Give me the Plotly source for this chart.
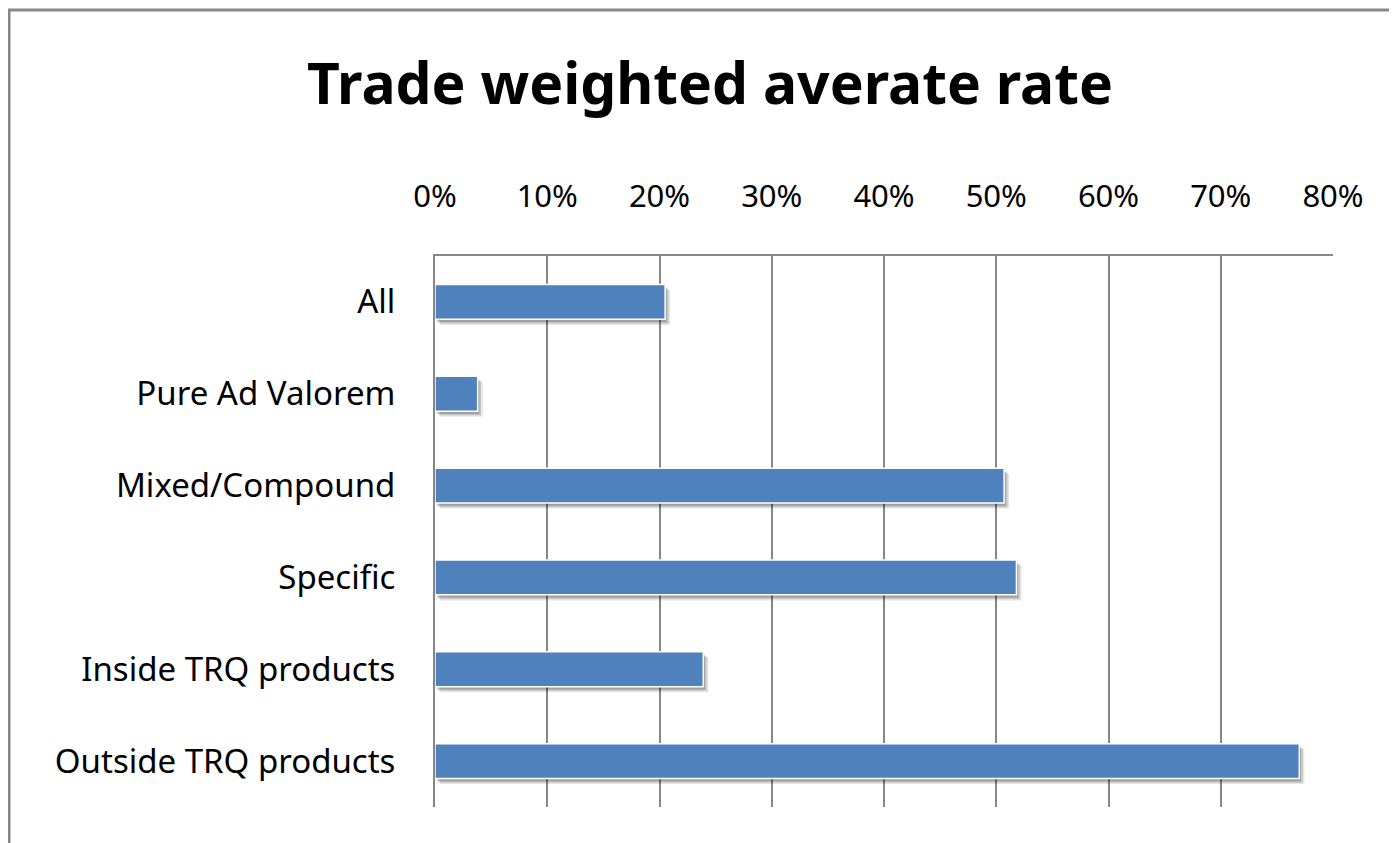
import plotly.graph_objects as go

categories = ["All", "Pure Ad Valorem", "Mixed/Compound", "Specific",
              "Inside TRQ products", "Outside TRQ products"]
values = [20.5, 3.8, 50.7, 51.8, 23.9, 77.0]
tick_vals = [0, 10, 20, 30, 40, 50, 60, 70, 80]
tick_text = ["0%", "10%", "20%", "30%", "40%", "50%", "60%", "70%", "80%"]
title_text = "Trade weighted averate rate"

OFF = 8  # page body margin
W, H = 1397 - OFF, 843 - OFF
L, R, T, B = 435 - OFF, 1333 - OFF, 256 - OFF, 807 - OFF
FONT = "Noto Sans"


def px(x):
    return (x - OFF - L) / (R - L)


def py(y):
    return (B - (y - OFF)) / (B - T)


fig = go.Figure()
# soft shadow
for dx, dy, a in [(0.45, 0.06, 0.10), (0.3, 0.045, 0.14), (0.15, 0.03, 0.18)]:
    fig.add_trace(go.Bar(
        y=categories, x=values, base=dx, orientation="h",
        width=0.38, offset=-0.19 + dy,
        marker=dict(color=f"rgba(0,0,0,{a})", line=dict(width=0)),
        hoverinfo="skip", showlegend=False,
    ))
fig.add_trace(go.Bar(
    y=categories, x=values, orientation="h",
    width=0.38, offset=-0.19,
    marker=dict(color="#4F81BD", line=dict(color="white", width=1.5)),
    showlegend=False,
))

shapes = [
    # outer frame
    dict(type="line", xref="paper", yref="paper", x0=px(8), x1=px(1420), y0=py(10), y1=py(10),
         line=dict(color="#878787", width=3)),
    dict(type="line", xref="paper", yref="paper", x0=px(9), x1=px(9), y0=py(10), y1=py(860),
         line=dict(color="#878787", width=3)),
]

fig.update_layout(
    width=W, height=H,
    margin=dict(l=L, r=W - R, t=T, b=H - B),
    paper_bgcolor="white", plot_bgcolor="white",
    barmode="overlay",
    font=dict(family=FONT, color="black"),
    title=dict(text=f"<b>{title_text}</b>", x=(710 - OFF) / W, xanchor="center",
               y=1 - (84 - OFF) / H, yanchor="middle",
               font=dict(family=FONT, size=57, color="black")),
    xaxis=dict(range=[0, 80], side="top", tickvals=tick_vals, ticktext=tick_text,
               showgrid=True, gridcolor="#878787", gridwidth=2,
               showline=True, linecolor="#878787", linewidth=2,
               ticks="", ticklabelstandoff=35, zeroline=False,
               tickfont=dict(family=FONT, size=31, color="black"), fixedrange=True),
    yaxis=dict(autorange="reversed", showline=True, linecolor="#878787", linewidth=2,
               ticks="", ticklabelstandoff=31, showgrid=False,
               tickfont=dict(family=FONT, size=33, color="black"), fixedrange=True),
    shapes=shapes,
)

fig.write_html("out.html", config={"displayModeBar": False})
